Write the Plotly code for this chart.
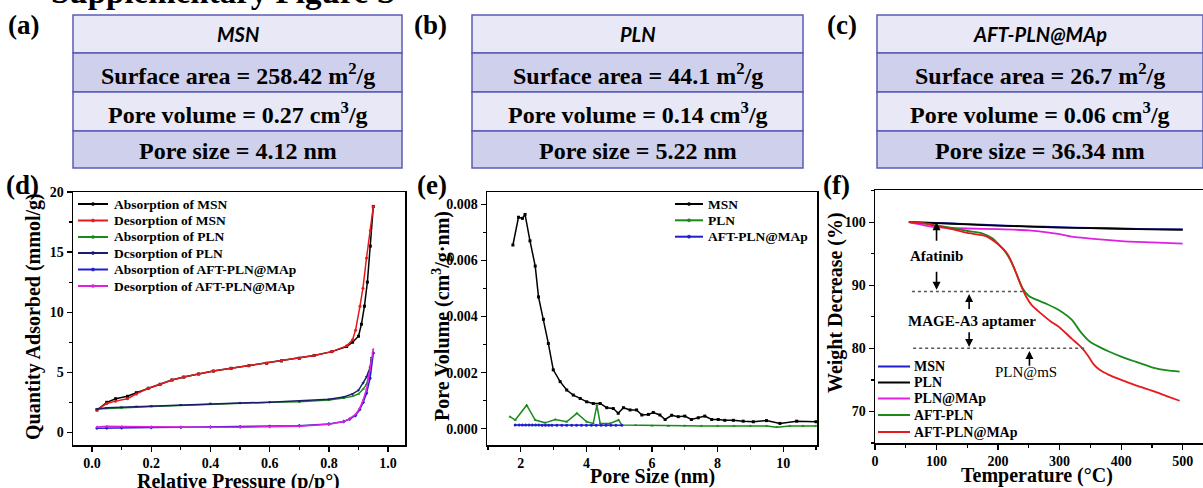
import plotly.graph_objects as go

W, H = 1203, 488

# ---------------- data ----------------
samples = ["MSN", "PLN", "AFT-PLN@MAp"]
surface_area = [258.42, 44.1, 26.7]
pore_volume = [0.27, 0.14, 0.06]
pore_size = [4.12, 5.22, 36.34]

# (d) N2 isotherms
p_msn_ads = [0.017, 0.05, 0.08, 0.12, 0.15, 0.19, 0.23, 0.27, 0.31, 0.36, 0.41, 0.47, 0.53, 0.59, 0.64, 0.70, 0.75, 0.81, 0.86, 0.88, 0.90, 0.91, 0.92, 0.93, 0.94, 0.95]
q_msn_ads = [1.86, 2.5, 2.8, 3.0, 3.3, 3.67, 4.0, 4.36, 4.6, 4.86, 5.1, 5.33, 5.55, 5.75, 5.95, 6.17, 6.4, 6.72, 7.14, 7.5, 8.0, 9.0, 10.5, 12.5, 15.5, 18.8]
p_msn_des = [0.017, 0.05, 0.08, 0.12, 0.15, 0.19, 0.23, 0.27, 0.31, 0.36, 0.41, 0.47, 0.53, 0.59, 0.64, 0.70, 0.75, 0.81, 0.86, 0.88, 0.89, 0.905, 0.915, 0.927, 0.94, 0.95]
q_msn_des = [1.9, 2.4, 2.6, 2.8, 3.2, 3.67, 4.0, 4.36, 4.6, 4.86, 5.1, 5.33, 5.55, 5.75, 5.95, 6.17, 6.4, 6.72, 7.2, 7.7, 8.5, 10.5, 12.0, 14.5, 16.8, 18.8]
p_pln_ads = [0.017, 0.05, 0.1, 0.15, 0.2, 0.3, 0.4, 0.5, 0.6, 0.7, 0.8, 0.85, 0.88, 0.9, 0.916, 0.927, 0.939, 0.944]
q_pln_ads = [1.95, 2.0, 2.05, 2.1, 2.15, 2.25, 2.35, 2.45, 2.5, 2.55, 2.7, 2.85, 3.0, 3.2, 3.6, 4.0, 5.0, 6.1]
p_pln_des = [0.017, 0.05, 0.1, 0.15, 0.2, 0.3, 0.4, 0.5, 0.6, 0.7, 0.8, 0.85, 0.88, 0.9, 0.916, 0.927, 0.939, 0.944]
q_pln_des = [1.95, 2.05, 2.1, 2.15, 2.2, 2.3, 2.4, 2.45, 2.5, 2.6, 2.75, 2.95, 3.2, 3.5, 4.1, 4.6, 5.4, 6.2]
p_aft_ads = [0.017, 0.05, 0.1, 0.2, 0.3, 0.4, 0.5, 0.6, 0.7, 0.8, 0.85, 0.87, 0.89, 0.904, 0.916, 0.927, 0.939, 0.95]
q_aft_ads = [0.35, 0.37, 0.39, 0.4, 0.42, 0.44, 0.46, 0.5, 0.55, 0.7, 0.9, 1.1, 1.4, 1.9, 2.5, 3.25, 4.5, 6.6]
p_aft_des = [0.017, 0.05, 0.1, 0.2, 0.3, 0.4, 0.5, 0.6, 0.7, 0.8, 0.85, 0.87, 0.89, 0.904, 0.916, 0.927, 0.939, 0.95]
q_aft_des = [0.45, 0.5, 0.48, 0.45, 0.42, 0.42, 0.43, 0.47, 0.52, 0.68, 0.9, 1.15, 1.5, 2.0, 2.7, 3.6, 5.2, 6.9]

# (e) pore size distribution
ps_msn = [1.76, 1.93, 2.05, 2.13, 2.28, 2.44, 2.54, 2.69, 2.84, 2.99, 3.2, 3.4, 3.6, 3.81, 4.01, 4.21, 4.42, 4.62, 4.82, 4.97, 5.13, 5.33, 5.53, 5.69, 5.89, 6.04, 6.24, 6.4, 6.6, 6.8, 7.0, 7.2, 7.41, 7.61, 7.82, 8.02, 8.22, 8.48, 8.78, 9.09, 9.49, 9.9, 10.41, 11.0]
pv_msn = [0.00655, 0.00754, 0.0075, 0.00764, 0.0067, 0.0058, 0.0047, 0.0039, 0.00304, 0.0021, 0.00168, 0.00138, 0.0012, 0.00108, 0.00096, 0.0009, 0.0009, 0.00075, 0.00072, 0.00055, 0.00075, 0.00067, 0.00067, 0.00049, 0.00051, 0.00058, 0.00049, 0.00033, 0.00048, 0.00043, 0.00045, 0.00033, 0.00039, 0.00045, 0.00033, 0.00033, 0.0003, 0.0003, 0.00027, 0.00025, 0.00029, 0.00019, 0.00027, 0.00025]
ps_pln = [1.67, 1.83, 2.18, 2.44, 2.74, 3.05, 3.4, 3.71, 4.01, 4.21, 4.32, 4.42, 4.72, 4.98, 5.08, 5.5, 6.0, 6.5, 7.0, 7.5, 8.0, 8.5, 9.0, 9.5, 9.8, 10.2, 10.6, 11.0]
pv_pln = [0.00043, 0.00031, 0.00084, 0.00031, 0.00021, 0.00033, 0.00025, 0.00055, 0.00025, 0.00019, 0.00084, 0.00019, 0.00019, 0.00031, 0.00013, 0.00012, 0.00011, 0.0001, 0.00011, 0.0001, 0.0001, 0.0001, 0.0001, 0.0001, 0.00005, 0.0001, 0.0001, 0.0001]
ps_aft = [1.83, 1.95, 2.05, 2.15, 2.25, 2.35, 2.45, 2.55, 2.65, 2.75, 2.85, 2.95, 3.1, 3.25, 3.4, 3.55, 3.7, 3.85, 4.0, 4.15, 4.3, 4.45, 4.6, 4.75, 4.9, 5.08]
pv_aft = [0.00013, 0.00013, 0.00013, 0.00013, 0.00013, 0.00013, 0.00013, 0.00013, 0.00012, 0.00012, 0.00012, 0.00012, 0.00012, 0.00012, 0.00012, 0.00012, 0.00012, 0.00012, 0.00012, 0.00012, 0.00012, 0.00012, 0.00012, 0.00012, 0.00012, 0.00012]

# (f) TGA
t_msn = [55, 100, 150, 200, 250, 300, 350, 400, 450, 500]
w_msn = [100, 99.9, 99.7, 99.5, 99.35, 99.2, 99.1, 99.0, 98.9, 98.85]
t_pln = [55, 100, 150, 200, 250, 300, 350, 400, 450, 500]
w_pln = [100, 99.85, 99.65, 99.45, 99.3, 99.15, 99.05, 98.95, 98.85, 98.8]
t_plnmap = [55, 80, 100, 150, 200, 250, 270, 300, 320, 340, 360, 400, 450, 500]
w_plnmap = [100, 99.5, 99.2, 99.0, 98.9, 98.7, 98.5, 98.1, 97.7, 97.5, 97.3, 97.0, 96.8, 96.6]
t_aftpln = [55, 80, 100, 130, 150, 175, 190, 200, 210, 220, 230, 240, 250, 265, 280, 300, 320, 335, 350, 365, 380, 400, 420, 450, 475, 495]
w_aftpln = [100, 99.8, 99.5, 99.0, 98.6, 98.2, 97.5, 96.6, 95.5, 94.0, 91.8, 89.5, 88.3, 87.6, 87.0, 86.0, 84.5, 82.5, 81.0, 80.2, 79.5, 78.7, 78.0, 77.0, 76.5, 76.3]
t_aftmap = [55, 80, 100, 130, 150, 180, 200, 215, 225, 235, 245, 255, 270, 285, 300, 320, 335, 345, 355, 365, 380, 400, 425, 450, 475, 495]
w_aftmap = [100, 99.8, 99.4, 98.8, 98.3, 97.8, 96.5, 95.0, 93.0, 90.5, 88.3, 86.8, 85.5, 84.3, 83.3, 81.5, 80.2, 79.0, 77.5, 76.6, 75.8, 75.0, 74.1, 73.3, 72.4, 71.7]

# annotations of (f): [text, x, y, bold]
tga_labels = [["Afatinib", 100, 94.6, True], ["MAGE-A3 aptamer", 158, 84.4, True], ["PLN@mS", 245, 76.2, False]]
# arrows of (f): [x, y_tail, y_head]
tga_arrows = [[100, 96.8, 100.0], [100, 92.4, 89.3], [153, 86.0, 88.6], [153, 82.8, 80.2], [251, 77.0, 79.6]]
# dotted levels of (f): [y, x_start, x_end]
tga_levels = [[89.0, 60, 240], [80.0, 62, 344]]

# ---------------- helpers ----------------
def fx(x):
    return x / W

def fy(y):
    return 1 - y / H

SERIF = "Liberation Serif"
fig = go.Figure()

d_series = [
    ("Absorption of MSN", p_msn_ads, q_msn_ads, "#000000", "square"),
    ("Desorption of MSN", p_msn_des, q_msn_des, "#e41a1c", "circle"),
    ("Absorption of PLN", p_pln_ads, q_pln_ads, "#1a8a1a", "triangle-up"),
    ("Dcsorption of PLN", p_pln_des, q_pln_des, "#1c1c6e", "triangle-down"),
    ("Absorption of AFT-PLN@MAp", p_aft_ads, q_aft_ads, "#1f1fd0", "diamond"),
    ("Desorption of AFT-PLN@MAp", p_aft_des, q_aft_des, "#e020e0", "triangle-left"),
]
for name, xs, ys, c, sym in d_series:
    fig.add_trace(go.Scatter(x=xs, y=ys, name=name, mode="lines+markers", showlegend=False,
                             line=dict(color=c, width=1.5),
                             marker=dict(color=c, size=3, symbol=sym),
                             xaxis="x", yaxis="y"))

e_series = [
    ("MSN", ps_msn, pv_msn, "#000000", "square"),
    ("PLN", ps_pln, pv_pln, "#1a8a1a", "triangle-up"),
    ("AFT-PLN@MAp", ps_aft, pv_aft, "#1f1fd0", "circle"),
]
for name, xs, ys, c, sym in e_series:
    fig.add_trace(go.Scatter(x=xs, y=ys, name=name, mode="lines+markers", showlegend=False,
                             line=dict(color=c, width=1.5),
                             marker=dict(color=c, size=3, symbol=sym),
                             xaxis="x2", yaxis="y2"))

f_series = [
    ("MSN", t_msn, w_msn, "#1f1fd0"),
    ("PLN", t_pln, w_pln, "#000000"),
    ("PLN@MAp", t_plnmap, w_plnmap, "#e020e0"),
    ("AFT-PLN", t_aftpln, w_aftpln, "#1a8a1a"),
    ("AFT-PLN@MAp", t_aftmap, w_aftmap, "#e41a1c"),
]
for name, xs, ys, c in f_series:
    fig.add_trace(go.Scatter(x=xs, y=ys, name=name, mode="lines", showlegend=False,
                             line=dict(color=c, width=1.8, shape="spline", smoothing=0.6),
                             xaxis="x3", yaxis="y3"))

tickfont = dict(family=SERIF, size=14, color="black", weight="bold")

def axis(domain, rng, dtick, mdtick, fmt=None, anchor=None):
    a = dict(domain=domain, range=rng, dtick=dtick, tick0=0, showgrid=False, zeroline=False,
             automargin=False,
             showline=True, linecolor="black", linewidth=1.5, mirror=True,
             ticks="outside", ticklen=5, tickwidth=1.3, tickcolor="black",
             minor=dict(dtick=mdtick, ticks="outside", ticklen=3, tickwidth=1.2, tickcolor="black", showgrid=False),
             tickfont=tickfont)
    if fmt:
        a["tickformat"] = fmt
    if anchor:
        a["anchor"] = anchor
    return a

fig.update_layout(
    width=W, height=H, margin=dict(l=0, r=0, t=0, b=0, autoexpand=False),
    paper_bgcolor="white", plot_bgcolor="white", showlegend=False,
    font=dict(family=SERIF, color="black"),
    xaxis=axis([fx(73), fx(405)], [-0.064, 1.057], 0.2, 0.1, ".1f", "y"),
    yaxis=axis([fy(445), fy(192)], [-1.05, 20], 5, 2.5, None, "x"),
    xaxis2=axis([fx(487), fx(817)], [0.97, 11.03], 2, 1, None, "y2"),
    yaxis2=axis([fy(445), fy(192)], [-0.00058, 0.00844], 0.002, 0.001, ".3f", "x2"),
    xaxis3=axis([fx(875), fx(1203)], [0, 533], 100, 50, None, "y3"),
    yaxis3=axis([fy(443), fy(190)], [65.0, 105.1], 10, 5, None, "x3"),
)

shapes = []
annotations = []

def text(t, x, y, size, xanchor="center", yanchor="middle", weight="bold", angle=0, family=SERIF, style="normal"):
    annotations.append(dict(text=t, xref="paper", yref="paper", x=fx(x), y=fy(y),
                            xanchor=xanchor, yanchor=yanchor, showarrow=False, textangle=angle,
                            font=dict(family=family, size=size, color="black", weight=weight, style=style)))

# ---------- tables (a)-(c)
table_x = [(73, 402), (472, 803), (877, 1203)]
row_y = [15, 53, 92, 131, 168]
row_fill = ["#e8e8f6", "#cfd0ec", "#e8e8f6", "#cfd0ec"]
for i, (x0, x1) in enumerate(table_x):
    texts = [samples[i],
             f"Surface area = {surface_area[i]} m<sup>2</sup>/g",
             f"Pore volume = {pore_volume[i]:.2f} cm<sup>3</sup>/g",
             f"Pore size = {pore_size[i]:.2f} nm"]
    for r in range(4):
        shapes.append(dict(type="rect", xref="paper", yref="paper",
                           x0=fx(x0), x1=fx(x1), y0=fy(row_y[r + 1]), y1=fy(row_y[r]),
                           fillcolor=row_fill[r], line=dict(color="#5b5bb4", width=1.5), layer="below"))
        cy = (row_y[r] + row_y[r + 1]) / 2
        if r == 0:
            text(texts[r], (x0 + x1) / 2, cy, 20, family="Lato", style="italic")
        else:
            text(texts[r], (x0 + x1) / 2, cy + 1, 24)

# panel labels
for lab, x, y in [("(a)", 6, 25), ("(b)", 412, 25), ("(c)", 825, 25), ("(d)", 4, 185), ("(e)", 415, 185), ("(f)", 821, 185)]:
    text(lab, x, y, 27, xanchor="left")

# cut-off page title at the top
text("Supplementary Figure S", 49, 12, 33, xanchor="left", yanchor="bottom")

# axis titles
text("Relative Pressure (p/p°)", 239, 481, 20)
text("Quantity Adsorbed (mmol/g)", 33, 317, 20, angle=-90)
text("Pore Size (nm)", 652, 476, 20)
text("Pore Volume (cm<sup>3</sup>/g·nm)", 441, 316, 20, angle=-90)
text("Temperature (°C)", 1037, 475, 20)
text("Weight Decrease (%)", 835, 303, 20, angle=-90)

# manual legends (line sample + small marker + label)
def legend(entries, xl0, xl1, xt, ys, size, marker):
    for (name, c), y in zip(entries, ys):
        shapes.append(dict(type="line", xref="paper", yref="paper", x0=fx(xl0), x1=fx(xl1),
                           y0=fy(y), y1=fy(y), line=dict(color=c, width=2)))
        if marker:
            xm = (xl0 + xl1) / 2
            shapes.append(dict(type="circle", xref="paper", yref="paper", x0=fx(xm - 1.6), x1=fx(xm + 1.6),
                               y0=fy(y + 1.6), y1=fy(y - 1.6), fillcolor=c, line=dict(color=c, width=0.5)))
        text(name, xt, y, size, xanchor="left")

legend([(s[0], s[3]) for s in d_series], 78, 108, 112, [204, 220.5, 237, 253, 269.5, 286], 13.5, True)
legend([(s[0], s[3]) for s in e_series], 675, 703, 706, [204, 220.3, 236.7], 13.5, True)
legend([(s[0], s[3]) for s in f_series], 878, 910, 912, [366.5, 382.5, 398.5, 415, 432], 14, False)

# ---------- (f) annotations
for yv, xa, xb in tga_levels:
    shapes.append(dict(type="line", xref="x3", yref="y3", x0=xa, x1=xb, y0=yv, y1=yv,
                       line=dict(color="#555555", width=1.5, dash="dot")))
for xv, ytail, yhead in tga_arrows:
    annotations.append(dict(text="", xref="x3", yref="y3", x=xv, y=yhead, ax=xv, ay=ytail,
                            axref="x3", ayref="y3", showarrow=True, arrowhead=2, arrowsize=1,
                            arrowwidth=1.6, arrowcolor="black"))
for txt, xv, yv, bold in tga_labels:
    annotations.append(dict(text=txt, xref="x3", yref="y3", x=xv, y=yv, showarrow=False,
                            xanchor="center", yanchor="middle",
                            font=dict(family=SERIF, size=15, color="black",
                                      weight="bold" if bold else "normal")))

fig.update_layout(shapes=shapes, annotations=annotations)
fig.write_html("out.html", config={"displayModeBar": False, "staticPlot": True},
               post_script="document.body.style.margin='0px';document.body.style.padding='0px';")
